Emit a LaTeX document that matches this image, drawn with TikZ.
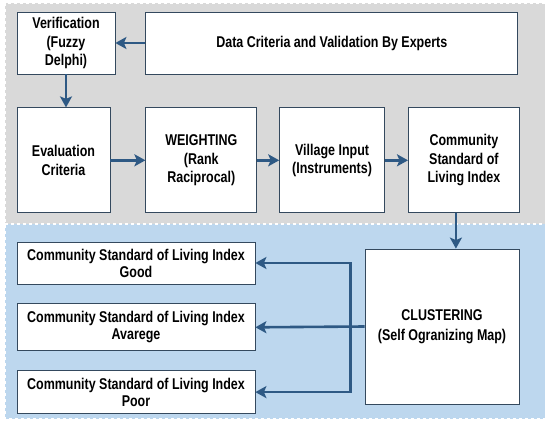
\documentclass[tikz,border=0pt]{standalone}
\usepackage{fontspec}
\setmainfont{Liberation Sans}[FakeStretch=0.8]
\usepackage{tikz}
\usetikzlibrary{arrows.meta}
\usetikzlibrary{positioning}
\definecolor{panelgray}{HTML}{D9D9D9}
\definecolor{panelblue}{HTML}{BDD7EE}
\definecolor{arrowblue}{HTML}{2E5984}
\definecolor{boxline}{HTML}{34495E}
\tikzset{
  box/.style={draw=boxline, line width=0.8pt, fill=white, inner sep=0pt,
    align=center, font=\fontsize{15.6}{18.5}\selectfont\bfseries},
  flow/.style={-{Stealth[length=11pt,width=12pt,inset=2.5pt]}, draw=arrowblue, line width=2.6pt},
  panel/.style={draw=white, dashed, line width=1.2pt}
}
\begin{document}
\begin{tikzpicture}[x=1pt, y=1pt]
				\useasboundingbox (0,0) rectangle (545,-422);
				\fill[panelgray] (5,-3) rectangle (545,-224);
				\fill[panelblue] (5,-224) rectangle (545,-419);
				\draw[panel] (545,-3) -- (5,-3) -- (5,-419) -- (545,-419);
				\draw[panel] (5,-224) -- (545,-224);
				\node (V) 	[box, minimum width=98pt, minimum height=62pt] at (66,-43)	{Verification\\(Fuzzy\\Delphi)};
				\node (D) 	[box, minimum width=372pt, minimum height=62pt, right=30pt of V]		{Data Criteria and Validation By Experts};
				\node (E) 	[box, minimum width=93pt, minimum height=105pt, below=33pt of V.south west, anchor=north west]	{Evaluation\\Criteria};
				\node (W) 	[box, minimum width=111pt, minimum height=105pt, right=35pt of E]	{WEIGHTING\\(Rank\\Raciprocal)};
				\node (I) 	[box, minimum width=105pt, minimum height=105pt, right=22pt of W]	{Village Input\\(Instruments)};
				\node (S) 	[box, minimum width=111pt, minimum height=105pt, right=23pt of I]	{Community\\Standard of\\Living Index};
				\node (C) 	[box, minimum width=154pt, minimum height=155pt, font=\fontsize{15.6}{20}\selectfont\bfseries] at (442,-326.5)	{CLUSTERING\\(Self Ogranizing Map)};
				\node (G) 	[box, minimum width=238pt, minimum height=42pt, font=\fontsize{15.6}{17}\selectfont\bfseries] at (136,-263)	{Community Standard of Living Index\\Good};
				\node (A) 	[box, minimum width=238pt, minimum height=47pt, font=\fontsize{15.6}{17}\selectfont\bfseries, below=19pt of G]	{Community Standard of Living Index\\Avarege};
				\node (P) 	[box, minimum width=238pt, minimum height=43pt, font=\fontsize{15.6}{17}\selectfont\bfseries, below=19pt of A]	{Community Standard of Living Index\\Poor};
				\coordinate (bus) at ([xshift=-14pt]C.west);
				\draw[flow]	(D)		to		(V);
				\draw[flow]	(V.south)		to		(V.south |- E.north);
				\draw[flow]	(E)		to		(W);
				\draw[flow]	(W)		to		(I);
				\draw[flow]	(I)		to		(S);
				\draw[flow]	([xshift=-8pt]S.south)		to		([xshift=-8pt]S.south |- C.north);
				\draw[flow]	(C.west)		to		(A.east);
				\draw[flow]	(bus)		|-		(G.east);
				\draw[flow]	(bus)		|-		(P.east);
			\end{tikzpicture}
\end{document}
